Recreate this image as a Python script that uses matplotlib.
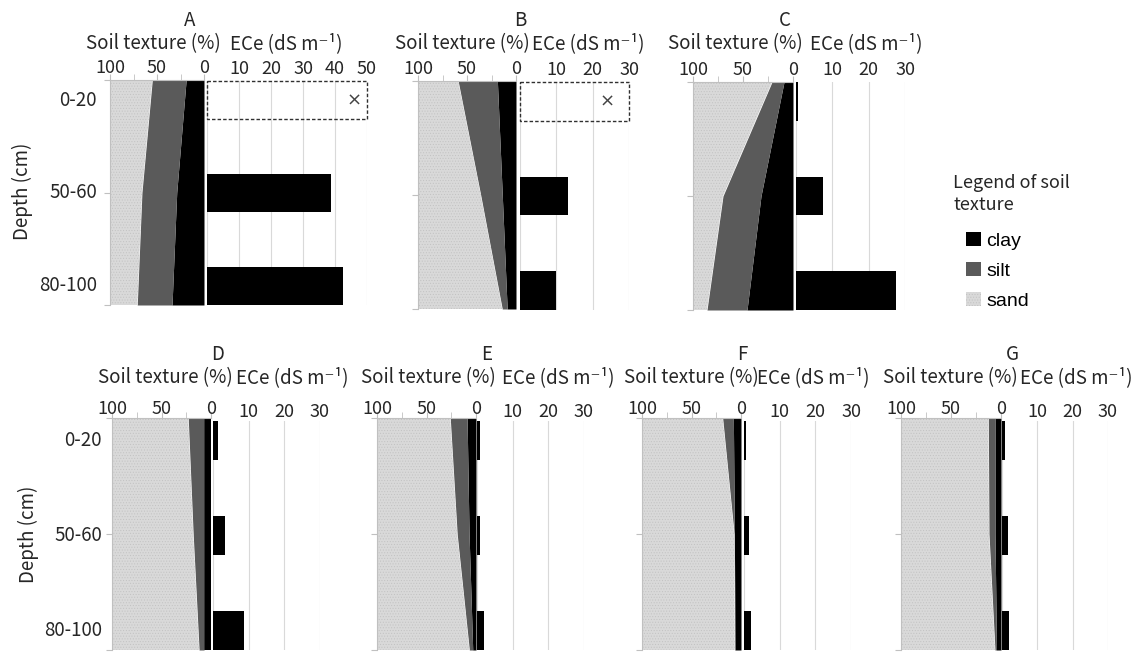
import numpy as np
import matplotlib
matplotlib.use('Agg')
import matplotlib.pyplot as plt
from matplotlib.patches import Patch
import matplotlib.transforms as mtransforms

# ---------------- data ----------------
depth_labels = ['0-20', '50-60', '80-100']
panel_names = ['A', 'B', 'C', 'D', 'E', 'F', 'G']

clay_A = [19, 29, 34];   silt_A = [36, 37, 37]
clay_B = [19, 14, 9];    silt_B = [40, 22, 5]
clay_C = [9, 32, 46];    silt_C = [12, 38, 40]
clay_D = [7, 7, 7];      silt_D = [16, 11, 5]
clay_E = [9, 7, 3.3];    silt_E = [17, 12, 3.4]
clay_F = [7.7, 6.7, 6];  silt_F = [10.8, 0.2, 0.3]
clay_G = [6, 6, 4.5];    silt_G = [6.7, 6, 1.5]

ece_A = [np.nan, 38.8, 42.5]
ece_B = [np.nan, 13.2, 9.8]
ece_C = [0.65, 7.3, 27.4]
ece_D = [1.3, 3.5, 8.7]
ece_E = [0.75, 0.75, 1.9]
ece_F = [0.5, 1.5, 1.9]
ece_G = [0.9, 1.6, 2.0]

ece_max = {'A': 50, 'B': 30, 'C': 30, 'D': 30, 'E': 30, 'F': 30, 'G': 30}

clay = dict(A=clay_A, B=clay_B, C=clay_C, D=clay_D, E=clay_E, F=clay_F, G=clay_G)
silt = dict(A=silt_A, B=silt_B, C=silt_C, D=silt_D, E=silt_E, F=silt_F, G=silt_G)
ece = dict(A=ece_A, B=ece_B, C=ece_C, D=ece_D, E=ece_E, F=ece_F, G=ece_G)

legend_labels = ['clay', 'silt', 'sand']

# ---------------- layout (pixels, top-left origin) ----------------
W, H = 1137, 652
tex_box = dict(A=(110, 204, 80, 305), B=(418, 516, 81, 309), C=(693, 793, 82, 310),
               D=(112, 211, 418, 650), E=(377, 476, 418, 650), F=(642, 741, 418, 650),
               G=(901, 1001, 418, 650))
ece_box = dict(A=(207, 367, 81, 305), B=(520, 629, 82, 310), C=(796, 905, 82, 310),
               D=(213, 320, 421, 650), E=(477, 584, 421, 650), F=(744, 851, 421, 650),
               G=(1002, 1108, 421, 650))
title_x = dict(A=190, B=520, C=785, D=218, E=487, F=742, G=1012)
soil_lab_x = dict(A=153, B=462, C=735, D=165, E=428, F=691, G=950)
ece_lab_x = dict(A=286, B=588, C=866, D=292, E=558, F=813, G=1076)
row = dict(A=0, B=0, C=0, D=1, E=1, F=1, G=1)
title_y = [20, 355]
label_y = [44, 378]
tick_pad = [-1.8, -4.0]
xmark_x = dict(A=46, B=24)

BAR_H = 0.41
SILT = '#5a5a5a'
SAND = '#d9d9d9'
SAND_H = '#c2c2c2'
AXC = '#c0c0c0'
GRID = '#d9d9d9'
TXT = '#262626'
FS = 13.0
FL = 13.5

plt.rcParams['font.family'] = ['Noto Sans CJK JP', 'DejaVu Sans']
plt.rcParams['hatch.linewidth'] = 0.4

fig = plt.figure(figsize=(W / 100, H / 100), dpi=100)
fig.patch.set_facecolor('white')


def rect(x0, x1, y0, y1):
    return [x0 / W, 1 - y1 / H, (x1 - x0) / W, (y1 - y0) / H]


ypos = np.arange(len(depth_labels))

for p in panel_names:
    r = row[p]
    # ---------- soil texture area ----------
    ax = fig.add_axes(rect(*tex_box[p]))
    c = np.array(clay[p], float)
    s = np.array(silt[p], float)
    ax.fill_betweenx(ypos, 0, c, color='black', lw=0)
    ax.fill_betweenx(ypos, c, c + s, color=SILT, lw=0)
    ax.fill_betweenx(ypos, c + s, 100, facecolor=SAND, edgecolor=SAND_H, hatch='......', lw=0)
    ax.set_xlim(100, 0)
    ax.set_ylim(2, 0)
    for sp in ['right', 'bottom']:
        ax.spines[sp].set_visible(False)
    for sp in ['top', 'left']:
        ax.spines[sp].set_color(AXC)
        ax.spines[sp].set_linewidth(0.8)
    ax.xaxis.tick_top()
    ax.set_xticks([100, 50, 0])
    ax.set_xticklabels(['100', '50', '0'])
    ax.set_xticks([75, 25], minor=True)
    ax.tick_params(axis='x', which='both', direction='out', length=4, color=AXC,
                   labelsize=FS, labelcolor=TXT, pad=tick_pad[r])
    ax.set_yticks(ypos)
    ax.set_yticklabels([])
    ax.tick_params(axis='y', direction='out', length=4, color=AXC)
    ax.set_facecolor('none')

    # ---------- ECe bars ----------
    bx = fig.add_axes(rect(*ece_box[p]))
    vals = np.array(ece[p], float)
    bx.barh(ypos, np.nan_to_num(vals), height=BAR_H, color='black', zorder=3)
    bx.set_xlim(0, ece_max[p])
    bx.set_ylim(2 + BAR_H / 2, -BAR_H / 2)
    if np.isnan(vals[0]):
        bx.barh([0], [ece_max[p]], height=BAR_H, fill=False, edgecolor='#303030',
                linestyle=(0, (2.5, 1.5)), linewidth=1.0, zorder=4, clip_on=False)
        bx.text(xmark_x[p], 0, '×', ha='center', va='center', fontsize=13, color='#444444',
                family=['DejaVu Sans'])
    for sp in bx.spines.values():
        sp.set_visible(False)
    ticks = list(range(0, ece_max[p] + 1, 10))
    bx.xaxis.tick_top()
    bx.set_xticks(ticks)
    bx.set_xticklabels([''] + [str(t) for t in ticks[1:]])
    bx.tick_params(axis='x', length=0, labelsize=FS, labelcolor=TXT, pad=tick_pad[r] + 4)
    bx.set_yticks([])
    bx.grid(axis='x', color=GRID, linewidth=0.8, zorder=0)
    bx.set_axisbelow(True)
    bx.set_facecolor('none')

    # ---------- texts ----------
    fig.text(title_x[p] / W, 1 - title_y[r] / H, p, ha='center', va='center',
             fontsize=FL, color=TXT)
    fig.text(soil_lab_x[p] / W, 1 - label_y[r] / H, 'Soil texture (%)', ha='center',
             va='center', fontsize=FL, color=TXT)
    fig.text(ece_lab_x[p] / W, 1 - label_y[r] / H, 'ECe (dS m⁻¹)', ha='center',
             va='center', fontsize=FL, color=TXT)

    if p in ('A', 'D'):
        tr = mtransforms.blended_transform_factory(fig.transFigure, bx.transData)
        xr = 97 if p == 'A' else 102
        for i, lab in enumerate(depth_labels):
            fig.text(xr / W, i, lab, transform=tr, ha='right', va='center',
                     fontsize=FL, color=TXT)
        yc = 191 if p == 'A' else 534
        xc = 22 if p == 'A' else 28
        fig.text(xc / W, 1 - yc / H, 'Depth (cm)', rotation=90, ha='center', va='center',
                 fontsize=FL, color=TXT)

# ---------- legend ----------
fig.text(953 / W, 1 - 183 / H, 'Legend of soil', ha='left', va='center', fontsize=FS,
         color=TXT)
fig.text(953 / W, 1 - 205 / H, 'texture', ha='left', va='center', fontsize=FS,
         color=TXT)
handles = [Patch(facecolor='black', edgecolor='none'),
           Patch(facecolor=SILT, edgecolor='none'),
           Patch(facecolor=SAND, edgecolor=SAND_H, hatch='......', linewidth=0)]
fig.legend(handles, legend_labels, loc='upper left', bbox_to_anchor=(966 / W, 1 - 232 / H),
           frameon=False, prop={'family': 'Liberation Sans', 'size': 14},
           handlelength=0.75, handleheight=0.75, handletextpad=0.3, labelspacing=0.62,
           borderpad=0, borderaxespad=0)

fig.savefig('out.png', dpi=100, facecolor='white')
